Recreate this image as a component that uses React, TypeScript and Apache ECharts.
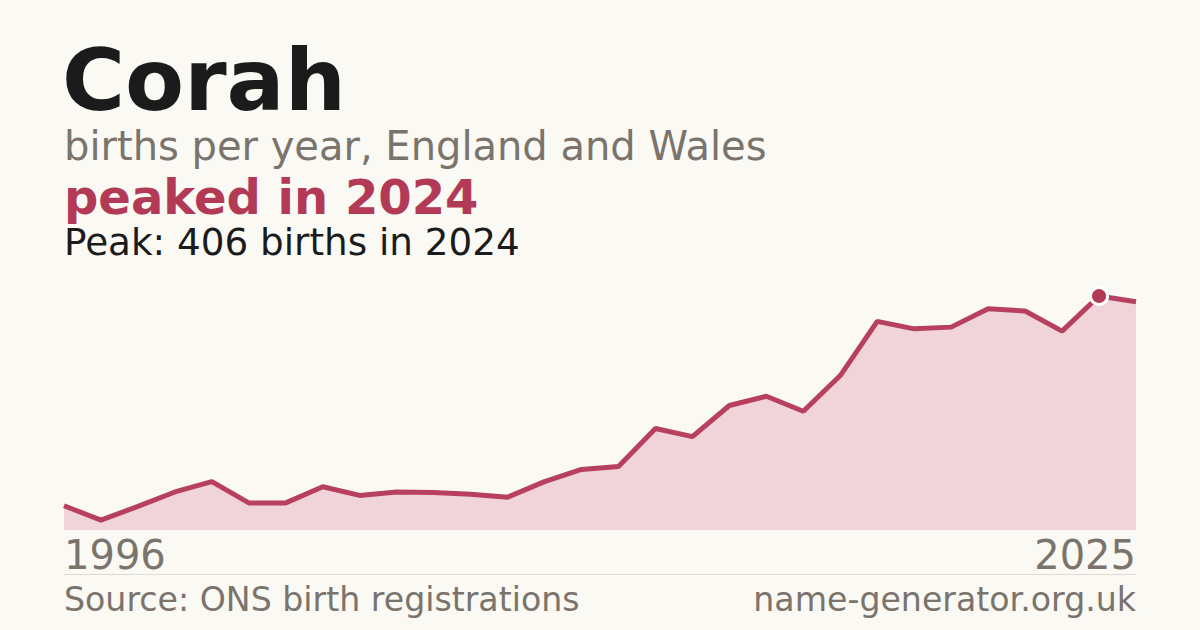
import { useEffect, useRef } from "react";
import * as echarts from "echarts";

const years = [
  "1996", "1997", "1998", "1999", "2000", "2001", "2002", "2003", "2004", "2005",
  "2006", "2007", "2008", "2009", "2010", "2011", "2012", "2013", "2014", "2015",
  "2016", "2017", "2018", "2019", "2020", "2021", "2022", "2023", "2024", "2025",
];
const births = [
  42, 17, 41, 66, 84, 47, 47, 75, 60, 66,
  65, 62, 57, 84, 105, 110, 176, 162, 216, 232,
  206, 268, 362, 349, 352, 384, 380, 345, 406, 396,
];

const name = "Corah";
const subtitle = "births per year, England and Wales";
const source = "Source: ONS birth registrations";
const site = "name-generator.org.uk";

const FONT = "DejaVu Sans";
const RED = "#b33a57";
const GREY = "#7a746c";
const INK = "#1b1b1b";
const BG = "#faf9f4";

export default function App(): JSX.Element {
  const chartRef = useRef<HTMLDivElement>(null);

  useEffect(() => {
    const chartDom = chartRef.current;
    const myChart = echarts.init(chartDom, null, { renderer: "svg" });

    const peak = Math.max(...births);
    const peakYear = years[births.indexOf(peak)];

    const option = {
      animation: false,
      backgroundColor: BG,
      grid: { left: 64, right: 64, top: 296, bottom: 100 },
      xAxis: {
        type: "category",
        data: years,
        boundaryGap: false,
        axisLine: { show: false },
        axisTick: { show: false },
        splitLine: { show: false },
        axisLabel: {
          interval: (i: number) => i === 0 || i === years.length - 1,
          showMinLabel: true,
          showMaxLabel: true,
          alignMinLabel: "left",
          alignMaxLabel: "right",
          color: GREY,
          fontFamily: FONT,
          fontSize: 40,
          margin: 5,
        },
      },
      yAxis: {
        type: "value",
        min: 0,
        max: peak,
        show: false,
        splitLine: { show: false },
      },
      series: [
        {
          type: "line",
          data: births,
          symbol: "none",
          lineStyle: { color: "#b8405f", width: 5 },
          areaStyle: { color: "#f0d4da", opacity: 1 },
          markPoint: {
            symbol: "circle",
            symbolSize: 17,
            data: [{ type: "max" }],
            itemStyle: { color: RED, borderColor: "#ffffff", borderWidth: 3 },
            label: { show: false },
          },
        },
      ],
      graphic: [
        {
          type: "text",
          left: 62,
          top: 37,
          style: { text: name, fontFamily: FONT, fontWeight: "bold", fontSize: 86, fill: INK },
        },
        {
          type: "text",
          left: 64,
          top: 126,
          style: { text: subtitle, fontFamily: FONT, fontSize: 40, fill: GREY },
        },
        {
          type: "text",
          left: 64,
          top: 173,
          style: { text: `peaked in ${peakYear}`, fontFamily: FONT, fontWeight: "bold", fontSize: 48, fill: RED },
        },
        {
          type: "text",
          left: 64,
          top: 223,
          style: { text: `Peak: ${peak} births in ${peakYear}`, fontFamily: FONT, fontSize: 37.3, fill: INK },
        },
        {
          type: "line",
          shape: { x1: 64, y1: 574.5, x2: 1136, y2: 574.5 },
          style: { stroke: "#dedbd4", lineWidth: 1 },
        },
        {
          type: "text",
          left: 64,
          top: 583,
          style: { text: source, fontFamily: FONT, fontSize: 33.2, fill: GREY },
        },
        {
          type: "text",
          right: 64,
          top: 583,
          style: { text: site, fontFamily: FONT, fontSize: 33.2, fill: GREY },
        },
      ],
    };

    myChart.setOption(option);
    return () => {
      myChart.dispose();
    };
  }, []);

  return (
    <div
      ref={chartRef}
      style={{ position: "fixed", left: 0, top: 0, width: 1200, height: 630, background: BG }}
    ></div>
  );
}
